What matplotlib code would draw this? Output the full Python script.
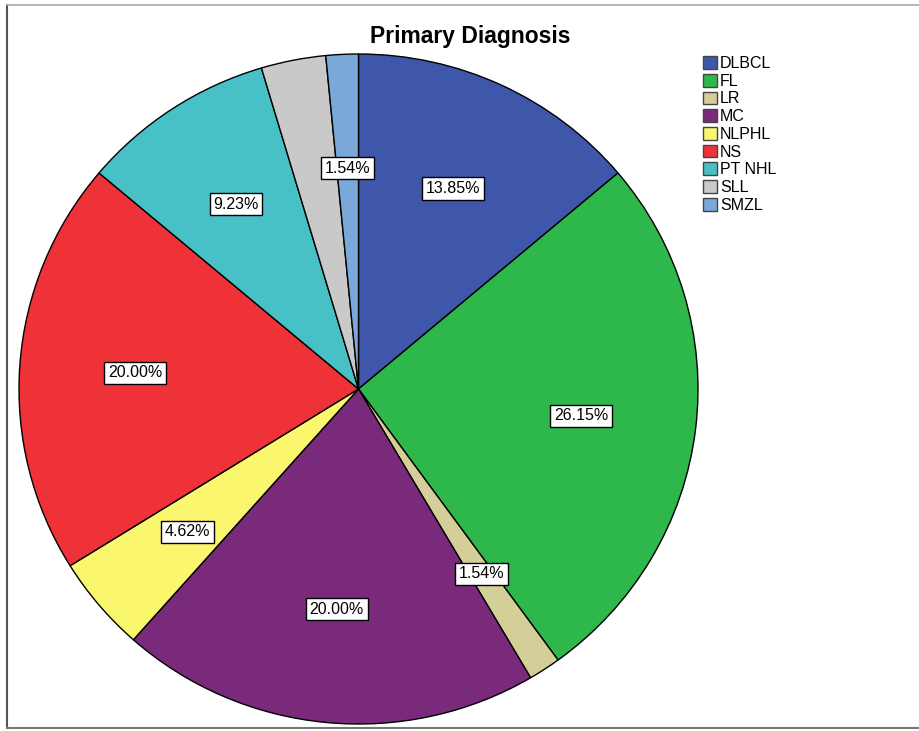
import matplotlib.pyplot as plt
from matplotlib.lines import Line2D

# case counts per diagnosis (N = 65)
diagnoses = ["DLBCL", "FL", "LR", "MC", "NLPHL", "NS", "PT NHL", "SLL", "SMZL"]
counts = [9, 17, 1, 13, 3, 13, 6, 2, 1]
colors = ["#3E57AB", "#2EB74A", "#D4CF98", "#7A2A7B", "#FAF66E",
          "#EE3238", "#48C1C6", "#C9C9C9", "#7AA8D8"]
show_label = [True, True, True, True, True, True, True, False, True]

plt.rcParams['font.family'] = ['Liberation Sans', 'DejaVu Sans']

fig = plt.figure(figsize=(9.2, 7.31), dpi=100)
W, H = 920, 731

# pie area in pixels: x 19..698, y 54..724
ax = fig.add_axes([19 / W, (H - 724) / H, 679 / W, 670 / H])

wedges, texts, autotexts = ax.pie(
    counts, colors=colors, startangle=90, counterclock=False,
    autopct='%.2f%%', pctdistance=0.66,
    wedgeprops=dict(edgecolor='black', linewidth=1.0),
    textprops=dict(fontsize=11.5, color='black'))

for t, show in zip(autotexts, show_label):
    t.set_visible(show)
    t.set_bbox(dict(boxstyle='square,pad=0.22', facecolor='white',
                    edgecolor='black', linewidth=1.0))

ax.set_aspect('auto')
ax.set_xlim(-1, 1)
ax.set_ylim(-1, 1)
ax.axis('off')

fig.text(470 / W, 1 - 36 / H, "Primary Diagnosis", ha='center', va='center',
         fontsize=16.5, fontweight='bold')

leg = fig.legend(wedges, diagnoses, loc='upper left',
                 bbox_to_anchor=(703 / W, 1 - 56 / H), frameon=False,
                 fontsize=11.5, handlelength=0.85, handleheight=0.85,
                 handletextpad=0.2, labelspacing=0.17, borderpad=0,
                 borderaxespad=0)
for h in leg.legend_handles:
    h.set_edgecolor('#444444')
    h.set_linewidth(1.0)

# outer frame of the exported chart
fig.add_artist(Line2D([7.5 / W, 7.5 / W], [1 - 5 / H, 1 - 728 / H],
                      transform=fig.transFigure, color='#555555', lw=1.5))
fig.add_artist(Line2D([7.5 / W, 1.0], [1 - 5 / H, 1 - 5 / H],
                      transform=fig.transFigure, color='#aaaaaa', lw=1.2))
fig.add_artist(Line2D([7.5 / W, 1.0], [1 - 728 / H, 1 - 728 / H],
                      transform=fig.transFigure, color='#777777', lw=1.5))

fig.savefig("out.png", dpi=100)
